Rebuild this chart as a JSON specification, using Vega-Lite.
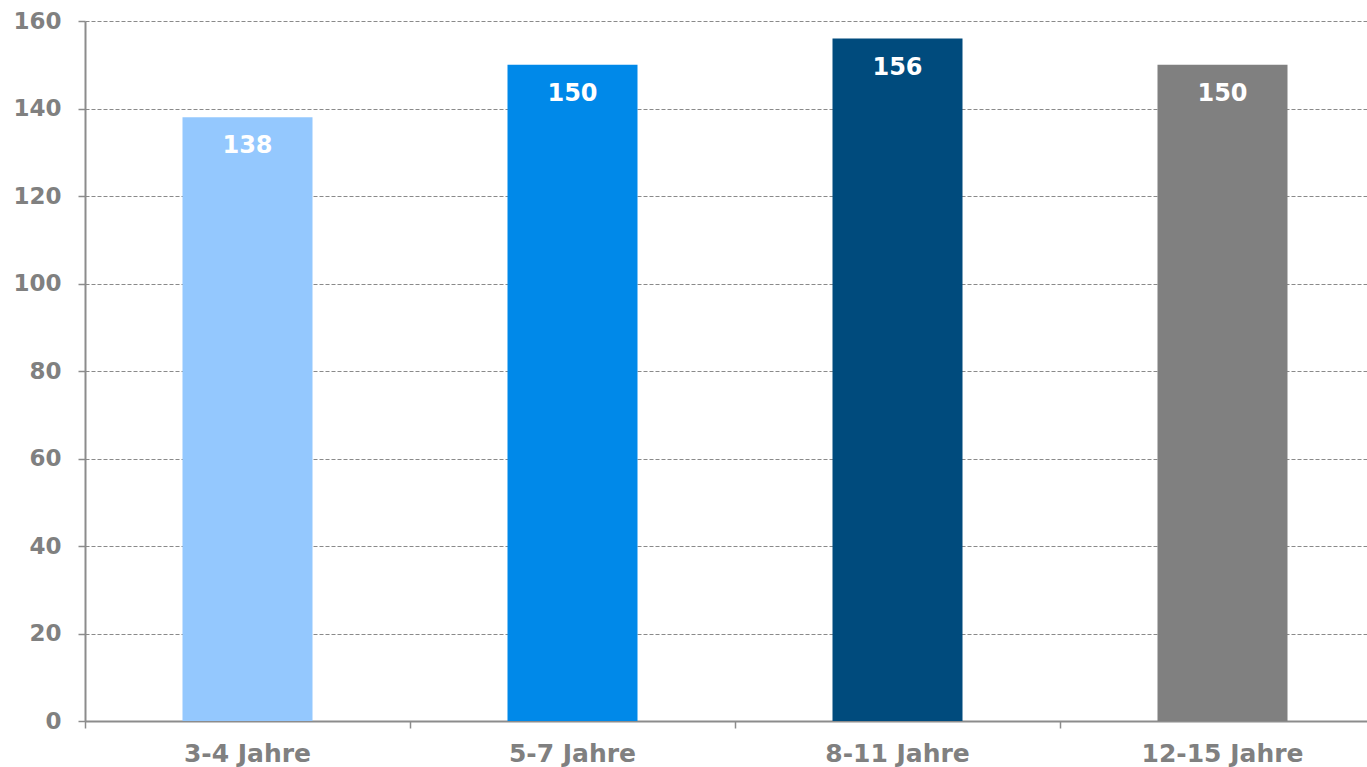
{
  "$schema": "https://vega.github.io/schema/vega-lite/v6.json",
  "width": 1300,
  "height": 700,
  "autosize": {"type": "none"},
  "padding": {"left": 85, "top": 21, "right": 0, "bottom": 46},
  "background": "white",
  "config": {
    "view": {"stroke": null},
    "font": "DejaVu Sans",
    "axis": {
      "labelFont": "DejaVu Sans",
      "labelFontWeight": "bold",
      "labelColor": "#808080",
      "domainColor": "#8c8c8c",
      "domainWidth": 2,
      "tickColor": "#8c8c8c",
      "tickWidth": 1.5,
      "title": null
    }
  },
  "data": {
    "values": [
      {"group": "3-4 Jahre", "value": 138},
      {"group": "5-7 Jahre", "value": 150},
      {"group": "8-11 Jahre", "value": 156},
      {"group": "12-15 Jahre", "value": 150}
    ]
  },
  "encoding": {
    "x": {
      "field": "group",
      "type": "nominal",
      "sort": null,
      "scale": {"paddingInner": 0, "paddingOuter": 0},
      "axis": {
        "labelAngle": 0,
        "labelFontSize": 25,
        "bandPosition": 0,
        "tickSize": 7,
        "labelPadding": 13,
        "grid": false
      }
    },
    "y": {
      "field": "value",
      "type": "quantitative",
      "scale": {"domain": [0, 160], "nice": false},
      "axis": {
        "values": [0, 20, 40, 60, 80, 100, 120, 140, 160],
        "labelFontSize": 23,
        "tickSize": 7,
        "labelPadding": 17,
        "grid": true,
        "gridColor": "#8a8a8a",
        "gridDash": [4, 2],
        "gridWidth": 1.2
      }
    }
  },
  "layer": [
    {
      "mark": {"type": "bar", "width": {"band": 0.4}},
      "encoding": {
        "color": {
          "field": "group",
          "type": "nominal",
          "sort": null,
          "scale": {
            "domain": ["3-4 Jahre", "5-7 Jahre", "8-11 Jahre", "12-15 Jahre"],
            "range": ["#94c8fe", "#0089e9", "#004b7d", "#808080"]
          },
          "legend": null
        }
      }
    },
    {
      "mark": {
        "type": "text",
        "color": "white",
        "fontWeight": "bold",
        "fontSize": 24,
        "font": "DejaVu Sans",
        "baseline": "middle",
        "dy": 29
      },
      "encoding": {
        "text": {"field": "value", "type": "quantitative"}
      }
    }
  ]
}
